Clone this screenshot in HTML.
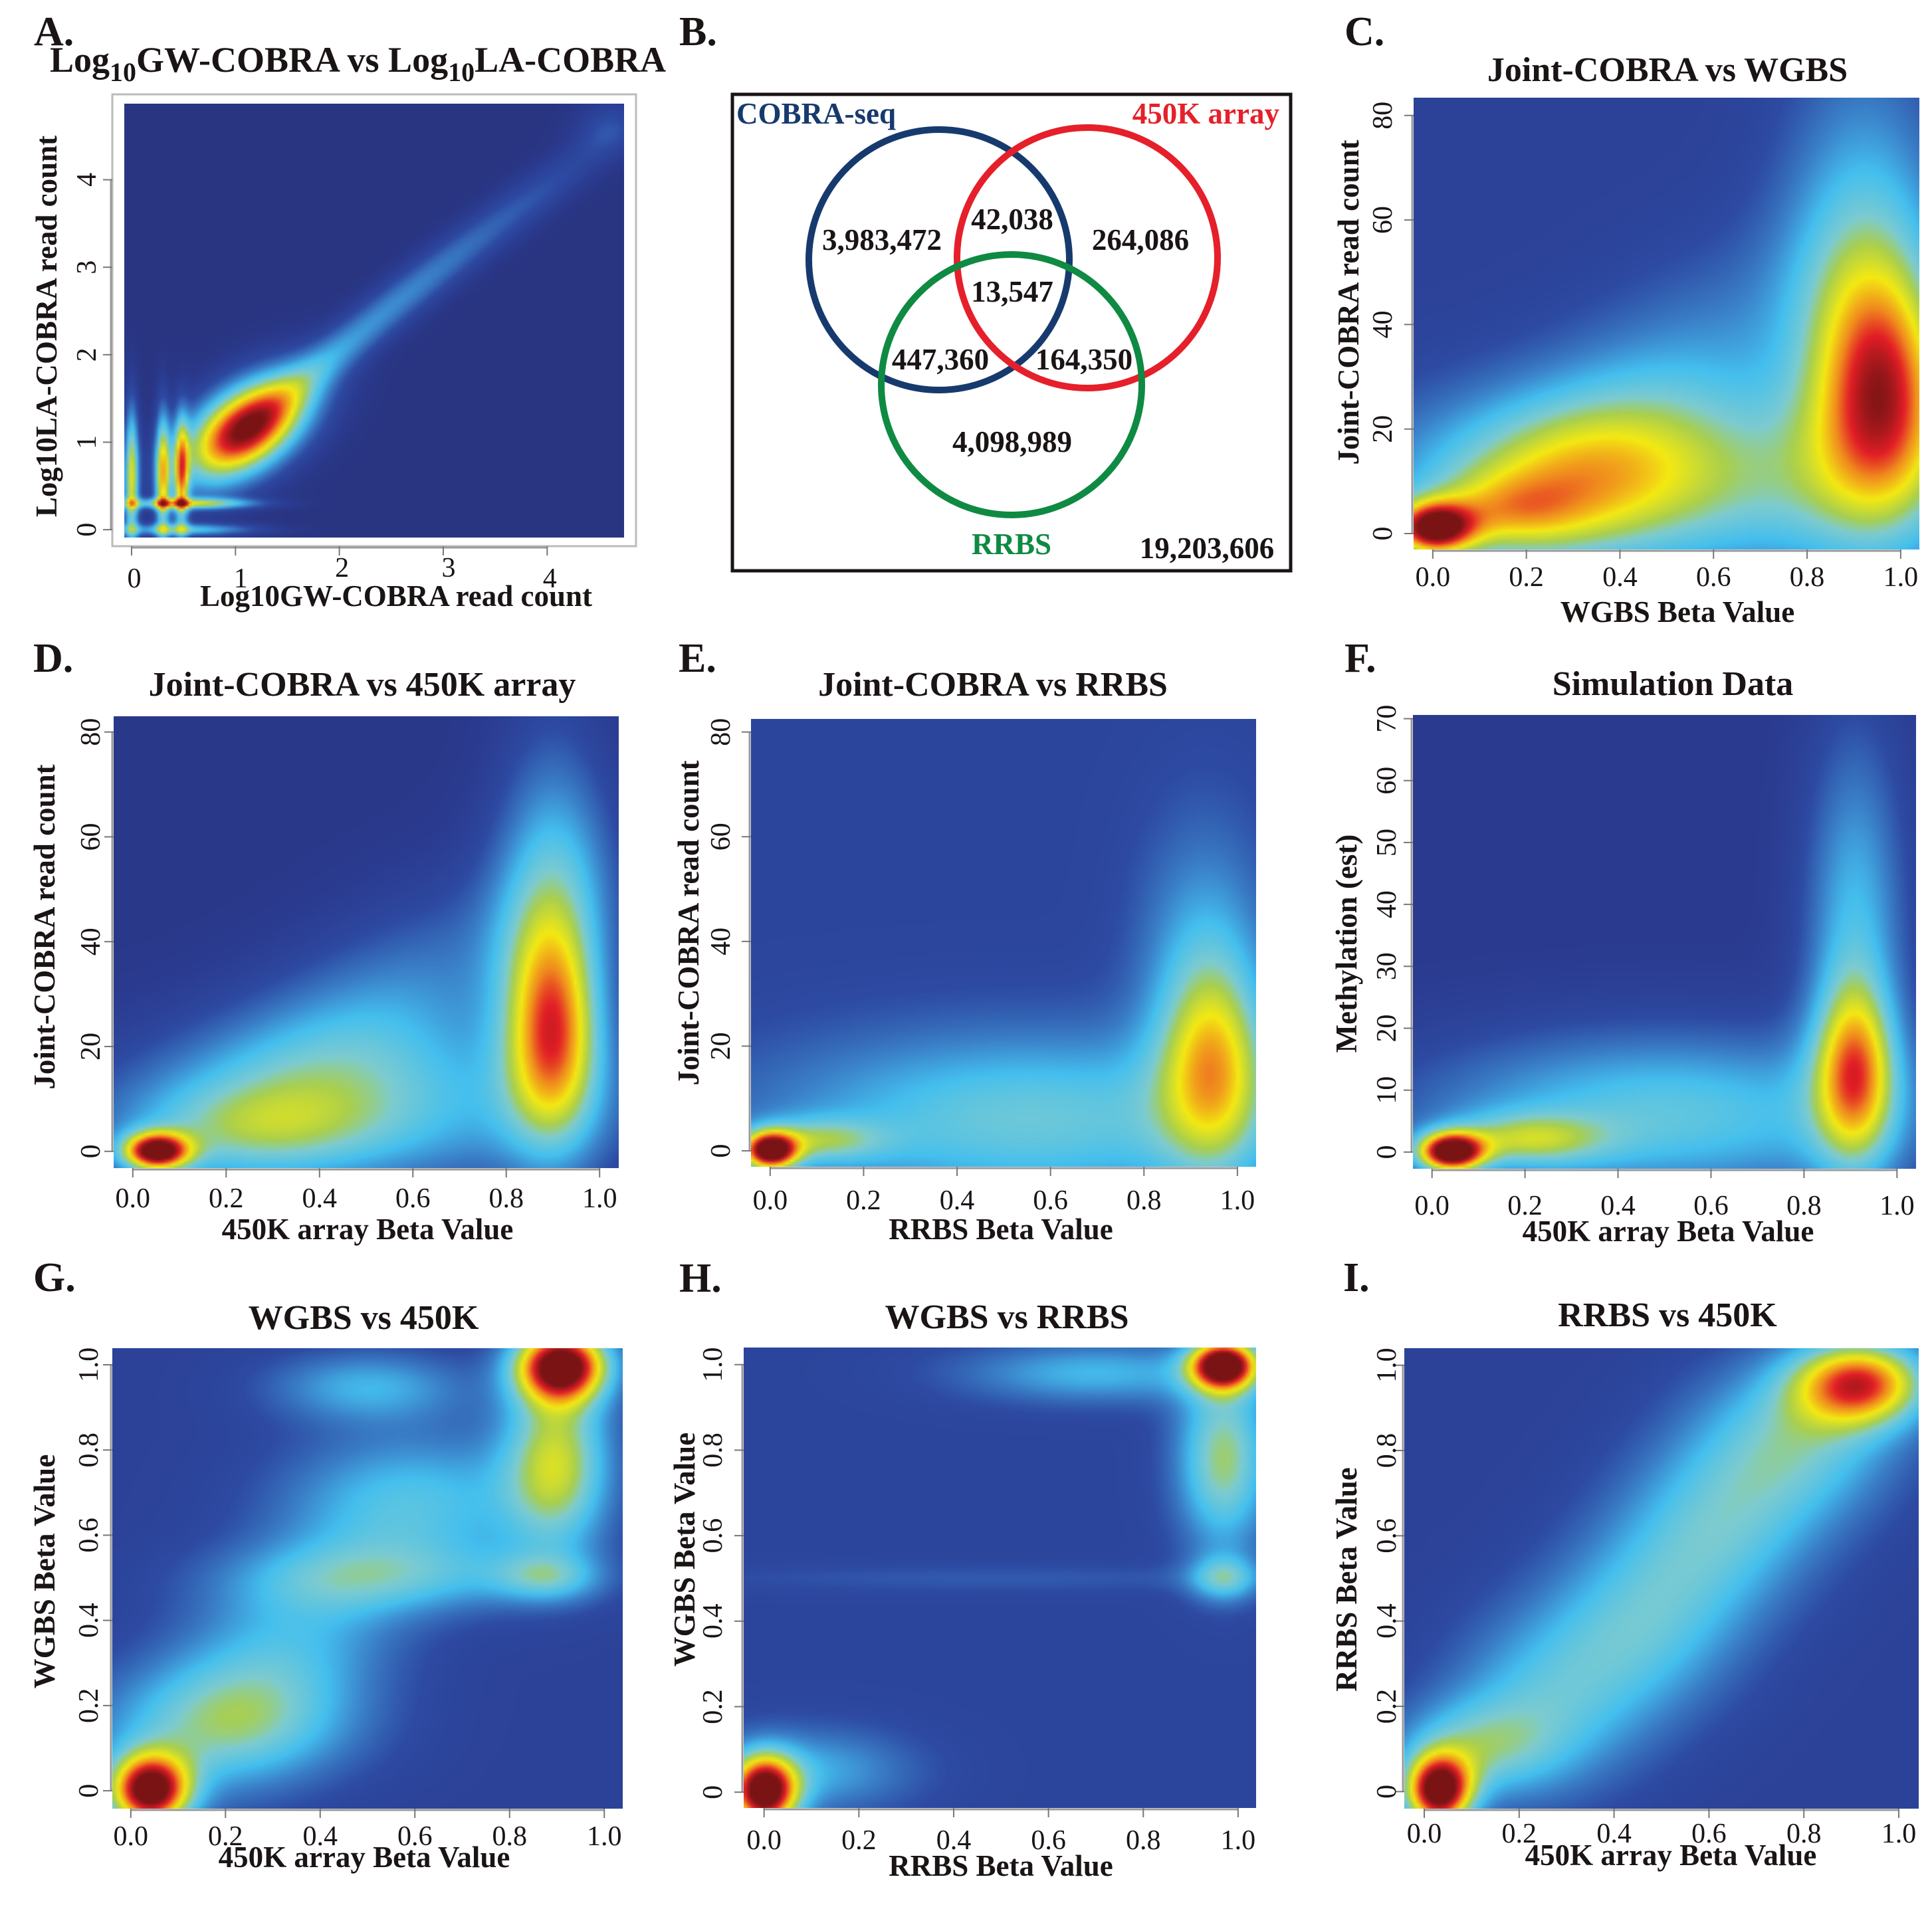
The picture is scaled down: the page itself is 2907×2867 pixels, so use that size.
<!DOCTYPE html>
<html><head><meta charset="utf-8">
<style>
html,body{margin:0;padding:0;background:#fff;}
#root{position:relative;width:2907px;height:2867px;overflow:hidden;background:#fff;font-family:"Liberation Serif",serif;}
canvas{position:absolute;image-rendering:auto;}
svg{position:absolute;left:0;top:0;}
text{font-family:"Liberation Serif",serif;fill:#1a1414;}
.t{font-weight:bold;font-size:52px;}
.lab{font-weight:bold;font-size:45px;}
.tick{font-size:42px;}
.let{font-weight:bold;font-size:62px;}
.vn{font-weight:bold;font-size:45px;}
</style></head>
<body>
<div id="root">
<svg id="ov" width="2907" height="2867" font-family="Liberation Serif, serif"></svg>
</div>
<script>
// ---------- Data (density components in data coordinates) ----------
// Panel A
const aCompX   = [1.1, 0.0, 0.3, 0.48, 0.55, 0.5, 0.5, 1.9, 2.6, 3.3, 4.1, 4.6];
const aCompY   = [1.15,0.6, 0.6, 0.6, 0.3, 0.0, 0.3, 1.95,2.65,3.3, 4.0, 4.6];
const aCompSX  = [0.45,0.05,0.05,0.05,0.45,0.5, 0.5, 0.45,0.45,0.45,0.45,0.25];
const aCompSY  = [0.45,0.6, 0.55,0.5, 0.05,0.05,0.04,0.45,0.45,0.45,0.45,0.25];
const aCompW   = [0.9, 0.55,0.52,0.5, 0.2, 0.35,0.25,0.2, 0.17,0.14,0.12,0.12];
const aCompRho = [0.5, 0,   0,   0,   0,   0,   0,   0.85,0.85,0.85,0.85,0];
// Panel C
const cCompX  = [0.0, 0.97, 0.55, 0.92, 0.3, 0.15, 0.45];
const cCompY  = [1,   28,   10,  45,   10,  4,    25];
const cCompSX = [0.06,0.1,  0.45,0.12, 0.2, 0.12, 0.3];
const cCompSY = [3.5, 16,   13,  30,   10,  5,    22];
const cCompW  = [0.65,0.45, 0.32,0.3,  0.18,0.2,  0.17];
const cCompRho= [0,   0,    0,   0,    0,   0,    0.7];
// Panel D
const dCompX  = [0.05,0.9, 0.9, 0.5, 0.25,0.5];
const dCompY  = [0,   22,  45,  8,   4,   25];
const dCompSX = [0.05,0.07,0.09,0.4, 0.2, 0.3];
const dCompSY = [2.5, 14,  25,  12,  6,   20];
const dCompW  = [0.75,0.45,0.33,0.3, 0.15,0.22];
const dCompRho= [0,   0,   0,   0,   0,   0.7];
// Panel E
const eCompX  = [0.0, 0.95,0.93,0.55,0.1];
const eCompY  = [0,   16,  35,  6,   2];
const eCompSX = [0.04,0.08,0.1, 0.4, 0.1];
const eCompSY = [2.5, 14,  20,  12,  3];
const eCompW  = [0.75,0.35,0.2, 0.3, 0.25];
// Panel F
const fCompX  = [0.04,0.91,0.91,0.5, 0.2];
const fCompY  = [0,   13,  35,  6,   2];
const fCompSX = [0.05,0.06,0.08,0.4, 0.12];
const fCompSY = [2.2, 10,  24,  10,  3];
const fCompW  = [0.8, 0.4, 0.3, 0.35,0.28];
// Panel G
const gCompX  = [0.04,0.91,0.9, 0.88,0.55,0.3, 0.6, 0.2, 0.5];
const gCompY  = [0,   1.0, 0.78,0.5, 0.5, 0.3, 0.68,0.15,0.95];
const gCompSX = [0.06,0.07,0.08,0.08,0.25,0.2, 0.2, 0.2, 0.15];
const gCompSY = [0.06,0.06,0.15,0.04,0.06,0.2, 0.12,0.1, 0.06];
const gCompW  = [0.8, 0.8, 0.42,0.2, 0.18,0.25,0.25,0.22,0.22];
const gCompRho= [0,   0,   0,   0,   0,   0.5, 0,   0,   0];
// Panel H
const hCompX  = [0.0, 0.97,0.97,0.97,0.7, 0.5, 0.1];
const hCompY  = [0.0, 1.0, 0.78,0.5, 0.98,0.5, 0.05];
const hCompSX = [0.05,0.05,0.07,0.05,0.2, 0.5, 0.15];
const hCompSY = [0.06,0.04,0.15,0.04,0.05,0.025,0.07];
const hCompW  = [0.8, 0.78,0.38,0.25,0.22,0.06,0.2];
// Panel I
const iCompX  = [0.03,0.92,0.25,0.45,0.6, 0.75,0.1, 0.85];
const iCompY  = [0.0, 0.96,0.2, 0.38,0.6, 0.8, 0.1, 0.85];
const iCompSX = [0.05,0.1, 0.15,0.15,0.15,0.15,0.12,0.15];
const iCompSY = [0.06,0.07,0.15,0.15,0.15,0.15,0.08,0.12];
const iCompW  = [0.8, 0.6, 0.24,0.24,0.24,0.22,0.25,0.12];

// Tick labels
const aTicks = [0,1,2,3,4];
const betaTicks = [0,0.2,0.4,0.6,0.8,1.0];
const betaTickLabels = ["0.0","0.2","0.4","0.6","0.8","1.0"];
const readTicks = [0,20,40,60,80];
const fYTicks = [0,10,20,30,40,50,60,70];
const betaYTicks = [0,0.2,0.4,0.6,0.8,1.0];
const betaYLabels = ["0","0.2","0.4","0.6","0.8","1.0"];
const vennLabels = ["3,983,472","42,038","264,086","13,547","447,360","164,350","4,098,989","19,203,606"];

// ---------- Rendering ----------
const NS="http://www.w3.org/2000/svg";
const ov=document.getElementById('ov');
const root=document.getElementById('root');
function T(x,y,s,cls,opts){
  const t=document.createElementNS(NS,'text');
  t.setAttribute('x',x);t.setAttribute('y',y);
  if(cls)t.setAttribute('class',cls);
  opts=opts||{};
  if(opts.anchor)t.setAttribute('text-anchor',opts.anchor);
  if(opts.fill)t.setAttribute('style','fill:'+opts.fill);
  if(opts.rot!==undefined){t.setAttribute('transform','rotate('+opts.rot+' '+x+' '+y+')');t.setAttribute('dominant-baseline','central');}
  t.textContent=s;ov.appendChild(t);return t;
}
function L(x1,y1,x2,y2,c,w){
  const l=document.createElementNS(NS,'line');
  l.setAttribute('x1',x1);l.setAttribute('y1',y1);l.setAttribute('x2',x2);l.setAttribute('y2',y2);
  l.setAttribute('stroke',c);l.setAttribute('stroke-width',w);ov.appendChild(l);return l;
}
const stops=[[0,[38,42,102]],[0.15,[42,58,142]],[0.25,[45,74,162]],[0.35,[58,127,200]],[0.45,[68,191,238]],[0.55,[124,203,208]],[0.62,[169,207,78]],[0.72,[243,233,18]],[0.82,[240,138,30]],[0.9,[226,30,38]],[1,[122,20,20]]];
function ramp(t){
  t=Math.max(0,Math.min(1,t));
  for(let i=1;i<stops.length;i++){if(t<=stops[i][0]){const a=stops[i-1],b=stops[i];const f=(t-a[0])/(b[0]-a[0]);return [0,1,2].map(k=>Math.round(a[1][k]+(b[1][k]-a[1][k])*f));}}
  return stops[stops.length-1][1];
}
function heat(p){
  const N=180;
  const cv=document.createElement('canvas');cv.width=N;cv.height=N;
  cv.style.left=p.left+'px';cv.style.top=p.top+'px';
  cv.style.width=(p.right-p.left)+'px';cv.style.height=(p.bottom-p.top)+'px';
  
  
  root.insertBefore(cv,ov);
  const ctx=cv.getContext('2d');const img=ctx.createImageData(N,N);
  for(let j=0;j<N;j++){const yv=p.ymax-(j+0.5)/N*(p.ymax-p.ymin);
    for(let i=0;i<N;i++){const xv=p.xmin+(i+0.5)/N*(p.xmax-p.xmin);
      let t=p.base;
      for(let k=0;k<p.cx.length;k++){
        const u=(xv-p.cx[k])/p.sx[k],v=(yv-p.cy[k])/p.sy[k];const r=p.rho?p.rho[k]:0;
        t+=p.w[k]*Math.exp(-0.5*(u*u-2*r*u*v+v*v)/(1-r*r));
      }
      const c=ramp(t);const o=(j*N+i)*4;img.data[o]=c[0];img.data[o+1]=c[1];img.data[o+2]=c[2];img.data[o+3]=255;}}
  ctx.putImageData(img,0,0);
}
function axes(p,xt,xl,yt,yl,xBase,yLabX){
  const sx=v=>p.left+(v-p.xmin)/(p.xmax-p.xmin)*(p.right-p.left);
  const sy=v=>p.bottom-(v-p.ymin)/(p.ymax-p.ymin)*(p.bottom-p.top);
  L(sx(xt[0]),p.bottom+2,sx(xt[xt.length-1]),p.bottom+2,'#999',3);
  xt.forEach((v,i)=>{L(sx(v),p.bottom,sx(v),p.bottom+14,'#777',2);const t=T(sx(v),xBase,xl[i],'tick',{anchor:'middle'});
    });
  L(p.left-2,sy(yt[0]),p.left-2,sy(yt[yt.length-1]),'#999',3);
  yt.forEach((v,i)=>{L(p.left-14,sy(v),p.left,sy(v),'#777',2);const t=T(yLabX,sy(v),yl[i],'tick',{anchor:'middle',rot:-90});
    });
}
function nm(el,n){return el;}

// Panel A
const pA={name:'heatmap-a',left:187,right:939,top:156,bottom:809,xmin:-0.07,xmax:4.74,ymin:-0.09,ymax:4.87,cx:aCompX,cy:aCompY,sx:aCompSX,sy:aCompSY,w:aCompW,rho:aCompRho,base:0.1};
heat(pA);
const fr=document.createElementNS(NS,'rect');fr.setAttribute('x',169);fr.setAttribute('y',142);fr.setAttribute('width',788);fr.setAttribute('height',680);fr.setAttribute('fill','none');fr.setAttribute('stroke','#bbb');fr.setAttribute('stroke-width',3);ov.appendChild(fr);
nm(fr,'panel-a-frame');
(function(){const sx=v=>pA.left+(v-pA.xmin)/(pA.xmax-pA.xmin)*(pA.right-pA.left);const sy=v=>pA.bottom-(v-pA.ymin)/(pA.ymax-pA.ymin)*(pA.bottom-pA.top);
 L(sx(0),824,sx(4),824,'#999',3);L(167,sy(0),167,sy(4),'#999',3);
 aTicks.forEach(v=>{L(sx(v),822,sx(v),836,'#777',2);nm(T(sx(v)+(v%2?8:4),v==2||v==3?868:884,String(v),'tick',{anchor:'middle'}),'x-tick-label');
   L(155,sy(v),169,sy(v),'#777',2);nm(T(131,sy(v),String(v),'tick',{anchor:'middle',rot:-90}),'y-tick-label');});})();
nm(T(51,68,'A.','let'),'panel-letter-a');
(function(){const t=T(75,108,'','t');nm(t,'panel-a-title');t.setAttribute('style','font-size:54px');
 t.innerHTML='Log<tspan dy="14" font-size="40">10</tspan><tspan dy="-14">GW-COBRA vs Log</tspan><tspan dy="14" font-size="40">10</tspan><tspan dy="-14">LA-COBRA</tspan>';})();
nm(T(596,912,'Log10GW-COBRA read count','lab',{anchor:'middle'}),'x-axis-title-a');
nm(T(70,491,'Log10LA-COBRA read count','lab',{anchor:'middle',rot:-90}),'y-axis-title-a');

// Panel B Venn
nm(T(1022,68,'B.','let'),'panel-letter-b');
(function(){const r=document.createElementNS(NS,'rect');r.setAttribute('x',1102);r.setAttribute('y',142);r.setAttribute('width',840);r.setAttribute('height',717);r.setAttribute('fill','none');r.setAttribute('stroke','#1a1414');r.setAttribute('stroke-width',5);ov.appendChild(r);nm(r,'venn-frame');
 [[1413,391,'#173a6e','venn-circle-cobra'],[1636,388,'#e5202a','venn-circle-450k'],[1522,579,'#0f8a43','venn-circle-rrbs']].forEach(c=>{const e=document.createElementNS(NS,'circle');e.setAttribute('cx',c[0]);e.setAttribute('cy',c[1]);e.setAttribute('r',196);e.setAttribute('fill','none');e.setAttribute('stroke',c[2]);e.setAttribute('stroke-width',10);ov.appendChild(e);nm(e,c[3]);});
 const pos=[[1327,376],[1523,345],[1716,376],[1523,454],[1415,556],[1631,556],[1523,680],[1816,840]];
 vennLabels.forEach((s,i)=>nm(T(pos[i][0],pos[i][1],s,'vn',{anchor:'middle'}),'venn-count'));
 nm(T(1108,186,'COBRA-seq','vn',{fill:'#173a6e'}),'venn-label-cobra');
 nm(T(1925,186,'450K array','vn',{anchor:'end',fill:'#e5202a'}),'venn-label-450k');
 nm(T(1522,834,'RRBS','vn',{anchor:'middle',fill:'#0f8a43'}),'venn-label-rrbs');})();

function panel(p,letter,lx,ly,title,tx,ty,xlab,xlx,xly,ylab,ylx,yly,xt,xl,yt,yl,xBase,yLabX){
  heat(p);axes(p,xt,xl,yt,yl,xBase,yLabX);
  nm(T(lx,ly,letter+'.','let'),'panel-letter-'+letter.toLowerCase());
  nm(T(tx,ty,title,'t',{anchor:'middle'}),'panel-title-'+letter.toLowerCase());
  nm(T(xlx,xly,xlab,'lab',{anchor:'middle'}),'x-axis-title-'+letter.toLowerCase());
  nm(T(ylx,yly,ylab,'lab',{anchor:'middle',rot:-90}),'y-axis-title-'+letter.toLowerCase());
}
const rl=readTicks.map(String);
panel({name:'heatmap-c',left:2127,right:2888,top:147,bottom:827,xmin:-0.041,xmax:1.04,ymin:-3.05,ymax:83.4,cx:cCompX,cy:cCompY,sx:cCompSX,sy:cCompSY,w:cCompW,rho:cCompRho,base:0.2},
 'C',2023,68,'Joint-COBRA vs WGBS',2509,122,'WGBS Beta Value',2524,936,'Joint-COBRA read count',2029,455,betaTicks,betaTickLabels,readTicks,rl,882,2081);
panel({name:'heatmap-d',left:171,right:931,top:1078,bottom:1758,xmin:-0.041,xmax:1.041,ymin:-3.2,ymax:83,cx:dCompX,cy:dCompY,sx:dCompSX,sy:dCompSY,w:dCompW,rho:dCompRho,base:0.13},
 'D',50,1011,'Joint-COBRA vs 450K array',545,1047,'450K array Beta Value',553,1865,'Joint-COBRA read count',67,1395,betaTicks,betaTickLabels,readTicks,rl,1817,137);
panel({name:'heatmap-e',left:1130,right:1890,top:1082,bottom:1756,xmin:-0.041,xmax:1.04,ymin:-3.05,ymax:82.5,cx:eCompX,cy:eCompY,sx:eCompSX,sy:eCompSY,w:eCompW,base:0.22},
 'E',1021,1011,'Joint-COBRA vs RRBS',1494,1047,'RRBS Beta Value',1506,1865,'Joint-COBRA read count',1036,1389,betaTicks,betaTickLabels,readTicks,rl,1820,1085);
panel({name:'heatmap-f',left:2126,right:2883,top:1076,bottom:1759,xmin:-0.041,xmax:1.041,ymin:-2.7,ymax:70.6,cx:fCompX,cy:fCompY,sx:fCompSX,sy:fCompSY,w:fCompW,base:0.15},
 'F',2023,1011,'Simulation Data',2517,1046,'450K array Beta Value',2510,1868,'Methylation (est)',2026,1420,betaTicks,betaTickLabels,fYTicks,fYTicks.map(String),1828,2087);
panel({name:'heatmap-g',left:169,right:937,top:2029,bottom:2722,xmin:-0.039,xmax:1.039,ymin:-0.042,ymax:1.039,cx:gCompX,cy:gCompY,sx:gCompSX,sy:gCompSY,w:gCompW,rho:gCompRho,base:0.2},
 'G',50,1943,'WGBS vs 450K',547,2000,'450K array Beta Value',548,2810,'WGBS Beta Value',67,2365,betaTicks,betaTickLabels,betaYTicks,betaYLabels,2777,134);
panel({name:'heatmap-h',left:1119,right:1890,top:2028,bottom:2721,xmin:-0.043,xmax:1.038,ymin:-0.037,ymax:1.04,cx:hCompX,cy:hCompY,sx:hCompSX,sy:hCompSY,w:hCompW,base:0.22},
 'H',1022,1944,'WGBS vs RRBS',1515,1999,'RRBS Beta Value',1506,2823,'WGBS Beta Value',1030,2332,betaTicks,betaTickLabels,betaYTicks,betaYLabels,2783,1073);
panel({name:'heatmap-i',left:2113,right:2887,top:2029,bottom:2722,xmin:-0.042,xmax:1.042,ymin:-0.04,ymax:1.04,cx:iCompX,cy:iCompY,sx:iCompSX,sy:iCompSY,w:iCompW,base:0.2},
 'I',2021,1943,'RRBS vs 450K',2509,1996,'450K array Beta Value',2514,2807,'RRBS Beta Value',2026,2377,betaTicks,betaTickLabels,betaYTicks,betaYLabels,2773,2087);
</script>
</body></html>
